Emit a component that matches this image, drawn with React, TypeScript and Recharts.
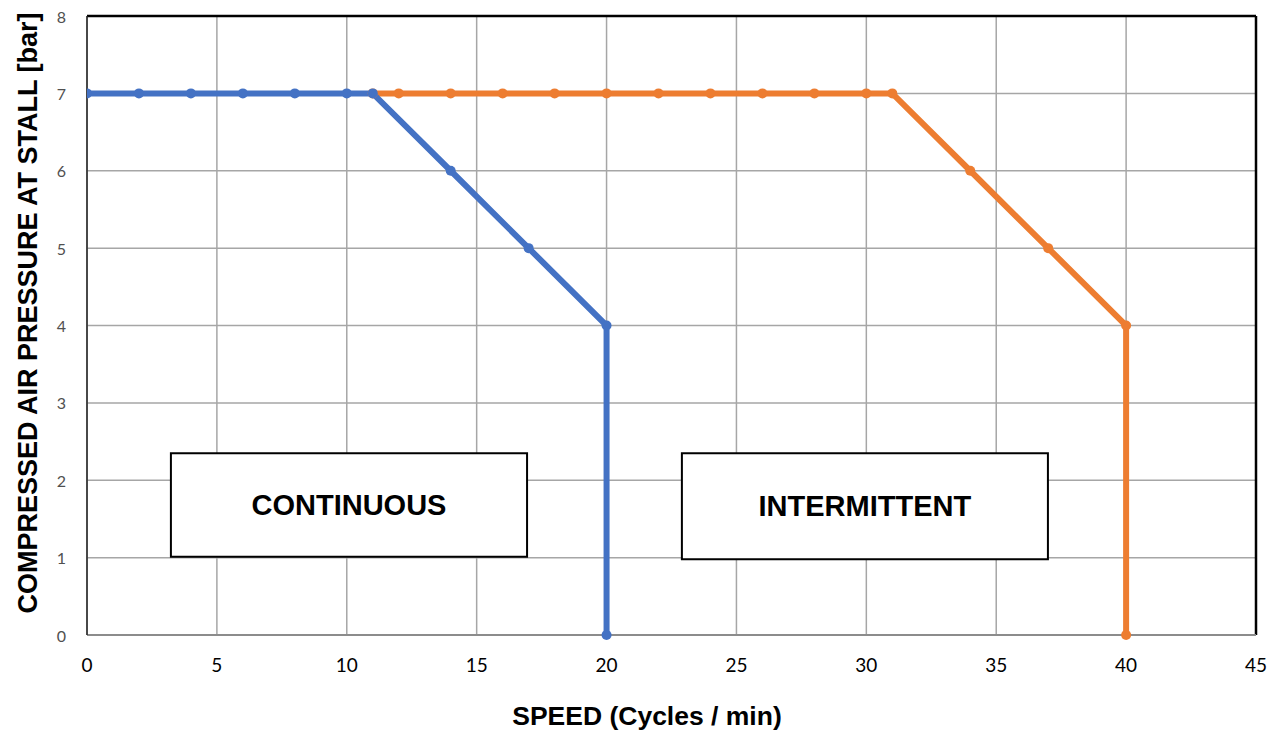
import { LineChart, Line, XAxis, YAxis, CartesianGrid, ReferenceArea, ReferenceLine } from 'recharts';

// continuous duty curve
const continuous = [
    { speed: 0, pressure: 7 },
    { speed: 2, pressure: 7 },
    { speed: 4, pressure: 7 },
    { speed: 6, pressure: 7 },
    { speed: 8, pressure: 7 },
    { speed: 10, pressure: 7 },
    { speed: 11, pressure: 7 },
    { speed: 14, pressure: 6 },
    { speed: 17, pressure: 5 },
    { speed: 20, pressure: 4 },
    { speed: 20, pressure: 0 },
];

// intermittent duty curve
const intermittent = [
    { speed: 11, pressure: 7 },
    { speed: 12, pressure: 7 },
    { speed: 14, pressure: 7 },
    { speed: 16, pressure: 7 },
    { speed: 18, pressure: 7 },
    { speed: 20, pressure: 7 },
    { speed: 22, pressure: 7 },
    { speed: 24, pressure: 7 },
    { speed: 26, pressure: 7 },
    { speed: 28, pressure: 7 },
    { speed: 30, pressure: 7 },
    { speed: 31, pressure: 7 },
    { speed: 34, pressure: 6 },
    { speed: 37, pressure: 5 },
    { speed: 40, pressure: 4 },
    { speed: 40, pressure: 0 },
];

const xTicks = [0, 5, 10, 15, 20, 25, 30, 35, 40, 45];
const yTicks = [0, 1, 2, 3, 4, 5, 6, 7, 8];

const BLUE = '#4472C4';
const ORANGE = '#ED7D31';

const titleFont = '"Liberation Sans", Arial, sans-serif';
const tickFont = 'Lato, "Open Sans", sans-serif';

const XTick = (props: any) => (
    <text
        x={props.x}
        y={props.y}
        dy={8}
        textAnchor="middle"
        dominantBaseline="hanging"
        fontFamily={tickFont}
        fontSize={19}
        fill="#000"
    >
        {props.payload.value}
    </text>
);

const YTick = (props: any) => (
    <text
        x={props.x}
        y={props.y}
        textAnchor="end"
        dominantBaseline="central"
        fontFamily={tickFont}
        fontSize={16}
        fill="#505050"
    >
        {props.payload.value}
    </text>
);

const YTitle = () => (
    <text
        x={28}
        y={313}
        transform="rotate(-90 28 313)"
        textAnchor="middle"
        dominantBaseline="central"
        fontFamily={titleFont}
        fontWeight="bold"
        fontSize={27}
        fill="#000"
    >
        COMPRESSED AIR PRESSURE AT STALL [bar]
    </text>
);

const XTitle = () => (
    <text
        x={647}
        y={716}
        textAnchor="middle"
        dominantBaseline="central"
        fontFamily={titleFont}
        fontWeight="bold"
        fontSize={26.5}
        fill="#000"
    >
        SPEED (Cycles / min)
    </text>
);

const boxLabel = (value: string) => ({
    value,
    position: 'center' as const,
    fill: '#000',
    fontSize: 29,
    fontWeight: 'bold',
    fontFamily: titleFont,
});

export default function App() {
    return (
        <div style={{ position: 'absolute', left: 0, top: 0, width: 1282, height: 731, background: '#fff' }}>
            <LineChart width={1282} height={731} margin={{ top: 16, right: 26, bottom: 0, left: 0 }}>
                <CartesianGrid stroke="#a6a6a6" strokeWidth={1.5} />
                <XAxis
                    type="number"
                    dataKey="speed"
                    domain={[0, 45]}
                    ticks={xTicks}
                    allowDataOverflow
                    height={96}
                    tickLine={false}
                    tickSize={0}
                    tickMargin={14}
                    axisLine={{ stroke: '#8c8c8c', strokeWidth: 2 }}
                    tick={<XTick />}
                    label={<XTitle />}
                />
                <YAxis
                    type="number"
                    dataKey="pressure"
                    domain={[0, 8]}
                    ticks={yTicks}
                    width={87}
                    tickLine={false}
                    tickSize={0}
                    tickMargin={21}
                    axisLine={{ stroke: '#222', strokeWidth: 1.5 }}
                    tick={<YTick />}
                    label={<YTitle />}
                />
                <ReferenceLine y={8} stroke="#000" strokeWidth={2.5} />
                <ReferenceLine x={45} stroke="#000" strokeWidth={2.5} />
                <ReferenceArea
                    x1={3.23}
                    x2={16.94}
                    y1={1.01}
                    y2={2.35}
                    fill="#fff"
                    fillOpacity={1}
                    stroke="#000"
                    strokeWidth={2}
                    label={boxLabel('CONTINUOUS')}
                />
                <ReferenceArea
                    x1={22.9}
                    x2={36.99}
                    y1={0.98}
                    y2={2.35}
                    fill="#fff"
                    fillOpacity={1}
                    stroke="#000"
                    strokeWidth={2}
                    label={boxLabel('INTERMITTENT')}
                />
                <Line
                    data={intermittent}
                    dataKey="pressure"
                    type="linear"
                    stroke={ORANGE}
                    strokeWidth={6}
                    dot={{ r: 5, fill: ORANGE, stroke: 'none' }}
                    isAnimationActive={false}
                />
                <Line
                    data={continuous}
                    dataKey="pressure"
                    type="linear"
                    stroke={BLUE}
                    strokeWidth={6}
                    dot={{ r: 5, fill: BLUE, stroke: 'none' }}
                    isAnimationActive={false}
                />
            </LineChart>
        </div>
    );
}
